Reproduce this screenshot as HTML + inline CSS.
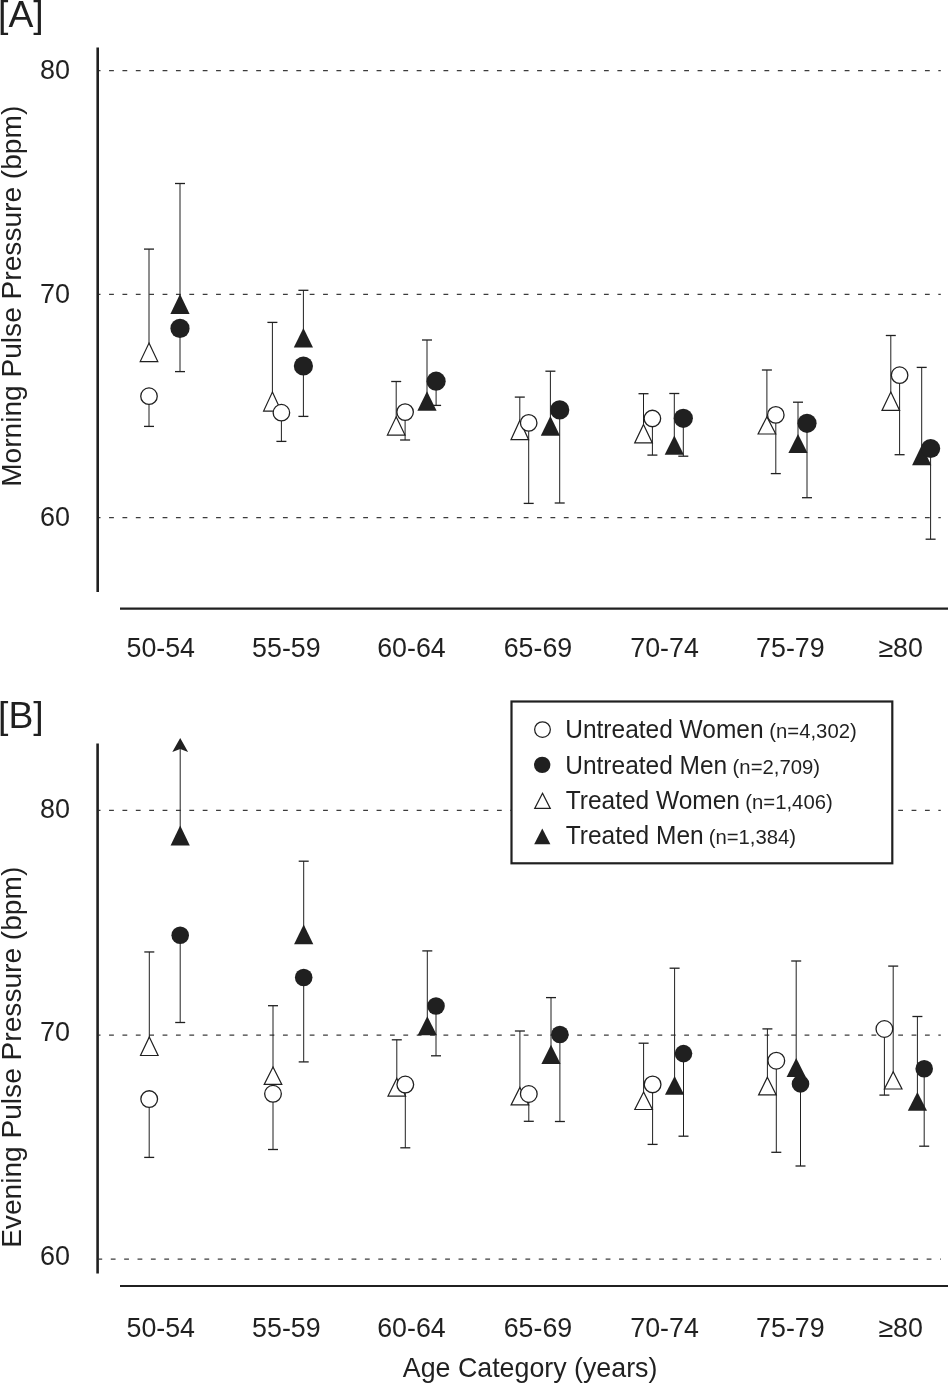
<!DOCTYPE html>
<html><head><meta charset="utf-8"><title>Pulse Pressure by Age Category</title>
<style>html,body{margin:0;padding:0;background:#fff;}svg{display:block;filter:grayscale(1);}</style>
</head><body>
<svg width="948" height="1383" viewBox="0 0 948 1383">
<rect width="948" height="1383" fill="#fff"/>
<g font-family="&quot;Liberation Sans&quot;, sans-serif" fill="#231f20">
<line x1="98.5" y1="70.6" x2="940.8" y2="70.6" stroke="#3c3c3c" stroke-width="1.25" stroke-dasharray="4.8 8.575" stroke-dashoffset="2.8"/>
<line x1="98.5" y1="294.3" x2="940.8" y2="294.3" stroke="#3c3c3c" stroke-width="1.25" stroke-dasharray="4.8 8.575" stroke-dashoffset="2.8"/>
<line x1="98.5" y1="517.6" x2="940.8" y2="517.6" stroke="#3c3c3c" stroke-width="1.25" stroke-dasharray="4.8 8.575" stroke-dashoffset="2.8"/>
<line x1="97.7" y1="47.4" x2="97.7" y2="592" stroke="#231f20" stroke-width="2.6"/>
<line x1="120" y1="608.7" x2="948" y2="608.7" stroke="#231f20" stroke-width="2.2"/>
<text transform="translate(70.1,79.2) scale(1,1.02)" font-size="27" text-anchor="end" >80</text>
<text transform="translate(70.1,303) scale(1,1.02)" font-size="27" text-anchor="end" >70</text>
<text transform="translate(70.1,526.3) scale(1,1.02)" font-size="27" text-anchor="end" >60</text>
<text transform="translate(126.5,657.4) scale(1,1.03)" font-size="26.8" text-anchor="start" >50-54</text>
<text transform="translate(252.1,657.4) scale(1,1.03)" font-size="26.8" text-anchor="start" >55-59</text>
<text transform="translate(377.2,657.4) scale(1,1.03)" font-size="26.8" text-anchor="start" >60-64</text>
<text transform="translate(503.7,657.4) scale(1,1.03)" font-size="26.8" text-anchor="start" >65-69</text>
<text transform="translate(630.3,657.4) scale(1,1.03)" font-size="26.8" text-anchor="start" >70-74</text>
<text transform="translate(756.1,657.4) scale(1,1.03)" font-size="26.8" text-anchor="start" >75-79</text>
<text transform="translate(878.4,657.4) scale(1,1.03)" font-size="26.8" text-anchor="start" >&#8805;80</text>
<text transform="translate(21,296.3) rotate(-90) scale(1.026,1)" font-size="27.4" text-anchor="middle">Morning Pulse Pressure (bpm)</text>
<text transform="translate(-1.9,26.9) scale(1,1)" font-size="37.3" text-anchor="start" >[A]</text>
<line x1="98.5" y1="810.4" x2="940.8" y2="810.4" stroke="#3c3c3c" stroke-width="1.25" stroke-dasharray="4.8 8.575" stroke-dashoffset="2.8"/>
<line x1="98.5" y1="1035" x2="940.8" y2="1035" stroke="#3c3c3c" stroke-width="1.25" stroke-dasharray="4.8 8.575" stroke-dashoffset="2.8"/>
<line x1="98.5" y1="1259" x2="940.8" y2="1259" stroke="#3c3c3c" stroke-width="1.25" stroke-dasharray="4.8 8.575" stroke-dashoffset="1.1"/>
<line x1="97.6" y1="743.5" x2="97.6" y2="1273.5" stroke="#231f20" stroke-width="2.6"/>
<line x1="120" y1="1286" x2="948" y2="1286" stroke="#231f20" stroke-width="2.2"/>
<text transform="translate(70.1,817.7) scale(1,1.02)" font-size="27" text-anchor="end" >80</text>
<text transform="translate(70.1,1041.4) scale(1,1.02)" font-size="27" text-anchor="end" >70</text>
<text transform="translate(70.1,1264.8) scale(1,1.02)" font-size="27" text-anchor="end" >60</text>
<text transform="translate(126.5,1336.6) scale(1,1.03)" font-size="26.8" text-anchor="start" >50-54</text>
<text transform="translate(252.1,1336.6) scale(1,1.03)" font-size="26.8" text-anchor="start" >55-59</text>
<text transform="translate(377.2,1336.6) scale(1,1.03)" font-size="26.8" text-anchor="start" >60-64</text>
<text transform="translate(503.7,1336.6) scale(1,1.03)" font-size="26.8" text-anchor="start" >65-69</text>
<text transform="translate(630.3,1336.6) scale(1,1.03)" font-size="26.8" text-anchor="start" >70-74</text>
<text transform="translate(756.1,1336.6) scale(1,1.03)" font-size="26.8" text-anchor="start" >75-79</text>
<text transform="translate(878.4,1336.6) scale(1,1.03)" font-size="26.8" text-anchor="start" >&#8805;80</text>
<text transform="translate(21,1057.3) rotate(-90) scale(1.026,1)" font-size="27.4" text-anchor="middle">Evening Pulse Pressure (bpm)</text>
<text transform="translate(-1.9,727.8) scale(1,1)" font-size="37.3" text-anchor="start" >[B]</text>
<line x1="149" y1="352.3" x2="149" y2="249.1" stroke="#231f20" stroke-width="1.0"/>
<line x1="144" y1="249.1" x2="154" y2="249.1" stroke="#231f20" stroke-width="1.3"/>
<path d="M149,343.1 L157.8,361.6 L140.2,361.6 Z" fill="#fff" stroke="#231f20" stroke-width="1.2" stroke-linejoin="miter"/>
<line x1="149" y1="396.2" x2="149" y2="426.4" stroke="#231f20" stroke-width="1.0"/>
<line x1="144" y1="426.4" x2="154" y2="426.4" stroke="#231f20" stroke-width="1.3"/>
<circle cx="149" cy="396.2" r="8.25" fill="#fff" stroke="#231f20" stroke-width="1.3"/>
<line x1="180" y1="304.2" x2="180" y2="183.5" stroke="#231f20" stroke-width="1.0"/>
<line x1="175" y1="183.5" x2="185" y2="183.5" stroke="#231f20" stroke-width="1.3"/>
<path d="M180,293.9 L189.6,314 L170.4,314 Z" fill="#231f20"/>
<line x1="180" y1="328.4" x2="180" y2="371.6" stroke="#231f20" stroke-width="1.0"/>
<line x1="175" y1="371.6" x2="185" y2="371.6" stroke="#231f20" stroke-width="1.3"/>
<circle cx="180" cy="328.4" r="9.6" fill="#231f20"/>
<line x1="272.4" y1="401.55" x2="272.4" y2="322.4" stroke="#231f20" stroke-width="1.0"/>
<line x1="267.4" y1="322.4" x2="277.4" y2="322.4" stroke="#231f20" stroke-width="1.3"/>
<path d="M272.4,392.1 L281.2,411.1 L263.6,411.1 Z" fill="#fff" stroke="#231f20" stroke-width="1.2" stroke-linejoin="miter"/>
<line x1="281.4" y1="412.7" x2="281.4" y2="441.4" stroke="#231f20" stroke-width="1.0"/>
<line x1="276.4" y1="441.4" x2="286.4" y2="441.4" stroke="#231f20" stroke-width="1.3"/>
<circle cx="281.4" cy="412.7" r="8.25" fill="#fff" stroke="#231f20" stroke-width="1.3"/>
<line x1="303.4" y1="338.1" x2="303.4" y2="290.3" stroke="#231f20" stroke-width="1.0"/>
<line x1="298.4" y1="290.3" x2="308.4" y2="290.3" stroke="#231f20" stroke-width="1.3"/>
<path d="M303.4,328.1 L313,347.6 L293.8,347.6 Z" fill="#231f20"/>
<line x1="303.4" y1="366" x2="303.4" y2="416.4" stroke="#231f20" stroke-width="1.0"/>
<line x1="298.4" y1="416.4" x2="308.4" y2="416.4" stroke="#231f20" stroke-width="1.3"/>
<circle cx="303.4" cy="366" r="9.6" fill="#231f20"/>
<line x1="396.2" y1="425.9" x2="396.2" y2="381.5" stroke="#231f20" stroke-width="1.0"/>
<line x1="391.2" y1="381.5" x2="401.2" y2="381.5" stroke="#231f20" stroke-width="1.3"/>
<path d="M396.2,416.8 L405,435.1 L387.4,435.1 Z" fill="#fff" stroke="#231f20" stroke-width="1.2" stroke-linejoin="miter"/>
<line x1="405.1" y1="412.1" x2="405.1" y2="440" stroke="#231f20" stroke-width="1.0"/>
<line x1="400.1" y1="440" x2="410.1" y2="440" stroke="#231f20" stroke-width="1.3"/>
<circle cx="405.1" cy="412.1" r="8.25" fill="#fff" stroke="#231f20" stroke-width="1.3"/>
<line x1="427" y1="401.3" x2="427" y2="340" stroke="#231f20" stroke-width="1.0"/>
<line x1="422" y1="340" x2="432" y2="340" stroke="#231f20" stroke-width="1.3"/>
<path d="M427,391.3 L436.6,410.8 L417.4,410.8 Z" fill="#231f20"/>
<line x1="436.1" y1="381.2" x2="436.1" y2="405.4" stroke="#231f20" stroke-width="1.0"/>
<line x1="431.1" y1="405.4" x2="441.1" y2="405.4" stroke="#231f20" stroke-width="1.3"/>
<circle cx="436.1" cy="381.2" r="9.6" fill="#231f20"/>
<line x1="519.8" y1="430.05" x2="519.8" y2="397.1" stroke="#231f20" stroke-width="1.0"/>
<line x1="514.8" y1="397.1" x2="524.8" y2="397.1" stroke="#231f20" stroke-width="1.3"/>
<path d="M519.8,420.5 L528.6,439.7 L511,439.7 Z" fill="#fff" stroke="#231f20" stroke-width="1.2" stroke-linejoin="miter"/>
<line x1="528.7" y1="422.9" x2="528.7" y2="503.4" stroke="#231f20" stroke-width="1.0"/>
<line x1="523.7" y1="503.4" x2="533.7" y2="503.4" stroke="#231f20" stroke-width="1.3"/>
<circle cx="528.7" cy="422.9" r="8.25" fill="#fff" stroke="#231f20" stroke-width="1.3"/>
<line x1="550.4" y1="426.2" x2="550.4" y2="371.2" stroke="#231f20" stroke-width="1.0"/>
<line x1="545.4" y1="371.2" x2="555.4" y2="371.2" stroke="#231f20" stroke-width="1.3"/>
<path d="M550.4,416.1 L560,435.8 L540.8,435.8 Z" fill="#231f20"/>
<line x1="559.7" y1="409.9" x2="559.7" y2="503" stroke="#231f20" stroke-width="1.0"/>
<line x1="554.7" y1="503" x2="564.7" y2="503" stroke="#231f20" stroke-width="1.3"/>
<circle cx="559.7" cy="409.9" r="9.6" fill="#231f20"/>
<line x1="643.5" y1="433.6" x2="643.5" y2="393.7" stroke="#231f20" stroke-width="1.0"/>
<line x1="638.5" y1="393.7" x2="648.5" y2="393.7" stroke="#231f20" stroke-width="1.3"/>
<path d="M643.5,424.4 L652.3,442.9 L634.7,442.9 Z" fill="#fff" stroke="#231f20" stroke-width="1.2" stroke-linejoin="miter"/>
<line x1="652.4" y1="418.5" x2="652.4" y2="455.1" stroke="#231f20" stroke-width="1.0"/>
<line x1="647.4" y1="455.1" x2="657.4" y2="455.1" stroke="#231f20" stroke-width="1.3"/>
<circle cx="652.4" cy="418.5" r="8.25" fill="#fff" stroke="#231f20" stroke-width="1.3"/>
<line x1="674.3" y1="445.4" x2="674.3" y2="393.5" stroke="#231f20" stroke-width="1.0"/>
<line x1="669.3" y1="393.5" x2="679.3" y2="393.5" stroke="#231f20" stroke-width="1.3"/>
<path d="M674.3,435.5 L683.9,454.8 L664.7,454.8 Z" fill="#231f20"/>
<line x1="683.3" y1="418.3" x2="683.3" y2="456.2" stroke="#231f20" stroke-width="1.0"/>
<line x1="678.3" y1="456.2" x2="688.3" y2="456.2" stroke="#231f20" stroke-width="1.3"/>
<circle cx="683.3" cy="418.3" r="9.6" fill="#231f20"/>
<line x1="766.9" y1="425.3" x2="766.9" y2="370" stroke="#231f20" stroke-width="1.0"/>
<line x1="761.9" y1="370" x2="771.9" y2="370" stroke="#231f20" stroke-width="1.3"/>
<path d="M766.9,416.7 L775.7,434 L758.1,434 Z" fill="#fff" stroke="#231f20" stroke-width="1.2" stroke-linejoin="miter"/>
<line x1="775.8" y1="414.9" x2="775.8" y2="473.6" stroke="#231f20" stroke-width="1.0"/>
<line x1="770.8" y1="473.6" x2="780.8" y2="473.6" stroke="#231f20" stroke-width="1.3"/>
<circle cx="775.8" cy="414.9" r="8.25" fill="#fff" stroke="#231f20" stroke-width="1.3"/>
<line x1="798" y1="443.7" x2="798" y2="402.2" stroke="#231f20" stroke-width="1.0"/>
<line x1="793" y1="402.2" x2="803" y2="402.2" stroke="#231f20" stroke-width="1.3"/>
<path d="M798,434 L807.6,452.9 L788.4,452.9 Z" fill="#231f20"/>
<line x1="807" y1="423.3" x2="807" y2="497.7" stroke="#231f20" stroke-width="1.0"/>
<line x1="802" y1="497.7" x2="812" y2="497.7" stroke="#231f20" stroke-width="1.3"/>
<circle cx="807" cy="423.3" r="9.6" fill="#231f20"/>
<line x1="890.8" y1="401.2" x2="890.8" y2="335.5" stroke="#231f20" stroke-width="1.0"/>
<line x1="885.8" y1="335.5" x2="895.8" y2="335.5" stroke="#231f20" stroke-width="1.3"/>
<path d="M890.8,392.1 L899.6,410.4 L882,410.4 Z" fill="#fff" stroke="#231f20" stroke-width="1.2" stroke-linejoin="miter"/>
<line x1="899.6" y1="375.2" x2="899.6" y2="454.7" stroke="#231f20" stroke-width="1.0"/>
<line x1="894.6" y1="454.7" x2="904.6" y2="454.7" stroke="#231f20" stroke-width="1.3"/>
<circle cx="899.6" cy="375.2" r="8.25" fill="#fff" stroke="#231f20" stroke-width="1.3"/>
<line x1="921.7" y1="455.5" x2="921.7" y2="367.4" stroke="#231f20" stroke-width="1.0"/>
<line x1="916.7" y1="367.4" x2="926.7" y2="367.4" stroke="#231f20" stroke-width="1.3"/>
<path d="M921.7,445.3 L931.3,465.2 L912.1,465.2 Z" fill="#231f20"/>
<line x1="930.6" y1="448.5" x2="930.6" y2="539.2" stroke="#231f20" stroke-width="1.0"/>
<line x1="925.6" y1="539.2" x2="935.6" y2="539.2" stroke="#231f20" stroke-width="1.3"/>
<circle cx="930.6" cy="448.5" r="9.6" fill="#231f20"/>
<line x1="149.3" y1="1046.2" x2="149.3" y2="951.96" stroke="#231f20" stroke-width="1.0"/>
<line x1="144.3" y1="951.96" x2="154.3" y2="951.96" stroke="#231f20" stroke-width="1.3"/>
<path d="M149.3,1037 L158.1,1055.5 L140.5,1055.5 Z" fill="#fff" stroke="#231f20" stroke-width="1.2" stroke-linejoin="miter"/>
<line x1="149.2" y1="1099.1" x2="149.2" y2="1157.4" stroke="#231f20" stroke-width="1.0"/>
<line x1="144.2" y1="1157.4" x2="154.2" y2="1157.4" stroke="#231f20" stroke-width="1.3"/>
<circle cx="149.2" cy="1099.1" r="8.35" fill="#fff" stroke="#231f20" stroke-width="1.3"/>
<line x1="180.2" y1="835.75" x2="180.2" y2="745" stroke="#231f20" stroke-width="1.0"/>
<path d="M180.2,738.1 L188.1,751.9 L180.2,748.9 L172.3,751.9 Z" fill="#231f20"/>
<path d="M180.2,825.6 L189.8,845.4 L170.6,845.4 Z" fill="#231f20"/>
<line x1="180.2" y1="935.2" x2="180.2" y2="1022.5" stroke="#231f20" stroke-width="1.0"/>
<line x1="175.2" y1="1022.5" x2="185.2" y2="1022.5" stroke="#231f20" stroke-width="1.3"/>
<circle cx="180.2" cy="935.2" r="8.8" fill="#231f20"/>
<line x1="273" y1="1075.7" x2="273" y2="1005.7" stroke="#231f20" stroke-width="1.0"/>
<line x1="268" y1="1005.7" x2="278" y2="1005.7" stroke="#231f20" stroke-width="1.3"/>
<path d="M273,1067.1 L281.8,1084.4 L264.2,1084.4 Z" fill="#fff" stroke="#231f20" stroke-width="1.2" stroke-linejoin="miter"/>
<line x1="273" y1="1093.8" x2="273" y2="1149.5" stroke="#231f20" stroke-width="1.0"/>
<line x1="268" y1="1149.5" x2="278" y2="1149.5" stroke="#231f20" stroke-width="1.3"/>
<circle cx="273" cy="1093.8" r="8.35" fill="#fff" stroke="#231f20" stroke-width="1.3"/>
<line x1="303.7" y1="934.55" x2="303.7" y2="861.2" stroke="#231f20" stroke-width="1.0"/>
<line x1="298.7" y1="861.2" x2="308.7" y2="861.2" stroke="#231f20" stroke-width="1.3"/>
<path d="M303.7,924.4 L313.3,944.2 L294.1,944.2 Z" fill="#231f20"/>
<line x1="303.7" y1="977.5" x2="303.7" y2="1061.9" stroke="#231f20" stroke-width="1.0"/>
<line x1="298.7" y1="1061.9" x2="308.7" y2="1061.9" stroke="#231f20" stroke-width="1.3"/>
<circle cx="303.7" cy="977.5" r="8.8" fill="#231f20"/>
<line x1="396.8" y1="1087.2" x2="396.8" y2="1039.8" stroke="#231f20" stroke-width="1.0"/>
<line x1="391.8" y1="1039.8" x2="401.8" y2="1039.8" stroke="#231f20" stroke-width="1.3"/>
<path d="M396.8,1078.4 L405.6,1096.1 L388,1096.1 Z" fill="#fff" stroke="#231f20" stroke-width="1.2" stroke-linejoin="miter"/>
<line x1="405.3" y1="1084.55" x2="405.3" y2="1147.8" stroke="#231f20" stroke-width="1.0"/>
<line x1="400.3" y1="1147.8" x2="410.3" y2="1147.8" stroke="#231f20" stroke-width="1.3"/>
<circle cx="405.3" cy="1084.55" r="8.35" fill="#fff" stroke="#231f20" stroke-width="1.3"/>
<line x1="427.3" y1="1026" x2="427.3" y2="950.9" stroke="#231f20" stroke-width="1.0"/>
<line x1="422.3" y1="950.9" x2="432.3" y2="950.9" stroke="#231f20" stroke-width="1.3"/>
<path d="M427.3,1016.2 L436.9,1035.3 L417.7,1035.3 Z" fill="#231f20"/>
<line x1="436" y1="1006" x2="436" y2="1055.8" stroke="#231f20" stroke-width="1.0"/>
<line x1="431" y1="1055.8" x2="441" y2="1055.8" stroke="#231f20" stroke-width="1.3"/>
<circle cx="436" cy="1006" r="8.8" fill="#231f20"/>
<line x1="519.9" y1="1096.1" x2="519.9" y2="1031" stroke="#231f20" stroke-width="1.0"/>
<line x1="514.9" y1="1031" x2="524.9" y2="1031" stroke="#231f20" stroke-width="1.3"/>
<path d="M519.9,1087.4 L528.7,1104.9 L511.1,1104.9 Z" fill="#fff" stroke="#231f20" stroke-width="1.2" stroke-linejoin="miter"/>
<line x1="528.8" y1="1094" x2="528.8" y2="1121.3" stroke="#231f20" stroke-width="1.0"/>
<line x1="523.8" y1="1121.3" x2="533.8" y2="1121.3" stroke="#231f20" stroke-width="1.3"/>
<circle cx="528.8" cy="1094" r="8.35" fill="#fff" stroke="#231f20" stroke-width="1.3"/>
<line x1="551" y1="1054.7" x2="551" y2="997.6" stroke="#231f20" stroke-width="1.0"/>
<line x1="546" y1="997.6" x2="556" y2="997.6" stroke="#231f20" stroke-width="1.3"/>
<path d="M551,1044.8 L560.6,1064.1 L541.4,1064.1 Z" fill="#231f20"/>
<line x1="559.9" y1="1034.5" x2="559.9" y2="1121.5" stroke="#231f20" stroke-width="1.0"/>
<line x1="554.9" y1="1121.5" x2="564.9" y2="1121.5" stroke="#231f20" stroke-width="1.3"/>
<circle cx="559.9" cy="1034.5" r="8.8" fill="#231f20"/>
<line x1="643.6" y1="1100.75" x2="643.6" y2="1043.2" stroke="#231f20" stroke-width="1.0"/>
<line x1="638.6" y1="1043.2" x2="648.6" y2="1043.2" stroke="#231f20" stroke-width="1.3"/>
<path d="M643.6,1092.1 L652.4,1109.5 L634.8,1109.5 Z" fill="#fff" stroke="#231f20" stroke-width="1.2" stroke-linejoin="miter"/>
<line x1="652.6" y1="1084.4" x2="652.6" y2="1144.4" stroke="#231f20" stroke-width="1.0"/>
<line x1="647.6" y1="1144.4" x2="657.6" y2="1144.4" stroke="#231f20" stroke-width="1.3"/>
<circle cx="652.6" cy="1084.4" r="8.35" fill="#fff" stroke="#231f20" stroke-width="1.3"/>
<line x1="674.6" y1="1085.6" x2="674.6" y2="968.2" stroke="#231f20" stroke-width="1.0"/>
<line x1="669.6" y1="968.2" x2="679.6" y2="968.2" stroke="#231f20" stroke-width="1.3"/>
<path d="M674.6,1075.9 L684.2,1094.8 L665,1094.8 Z" fill="#231f20"/>
<line x1="683.5" y1="1053.6" x2="683.5" y2="1136.2" stroke="#231f20" stroke-width="1.0"/>
<line x1="678.5" y1="1136.2" x2="688.5" y2="1136.2" stroke="#231f20" stroke-width="1.3"/>
<circle cx="683.5" cy="1053.6" r="8.8" fill="#231f20"/>
<line x1="767.4" y1="1086" x2="767.4" y2="1028.9" stroke="#231f20" stroke-width="1.0"/>
<line x1="762.4" y1="1028.9" x2="772.4" y2="1028.9" stroke="#231f20" stroke-width="1.3"/>
<path d="M767.4,1077.2 L776.2,1094.9 L758.6,1094.9 Z" fill="#fff" stroke="#231f20" stroke-width="1.2" stroke-linejoin="miter"/>
<line x1="776.3" y1="1060.7" x2="776.3" y2="1152.3" stroke="#231f20" stroke-width="1.0"/>
<line x1="771.3" y1="1152.3" x2="781.3" y2="1152.3" stroke="#231f20" stroke-width="1.3"/>
<circle cx="776.3" cy="1060.7" r="8.35" fill="#fff" stroke="#231f20" stroke-width="1.3"/>
<line x1="796.2" y1="1067.7" x2="796.2" y2="961" stroke="#231f20" stroke-width="1.0"/>
<line x1="791.2" y1="961" x2="801.2" y2="961" stroke="#231f20" stroke-width="1.3"/>
<path d="M796.2,1058 L805.8,1076.9 L786.6,1076.9 Z" fill="#231f20"/>
<line x1="800.5" y1="1083.9" x2="800.5" y2="1166" stroke="#231f20" stroke-width="1.0"/>
<line x1="795.5" y1="1166" x2="805.5" y2="1166" stroke="#231f20" stroke-width="1.3"/>
<circle cx="800.5" cy="1083.9" r="8.8" fill="#231f20"/>
<line x1="893.2" y1="1080.3" x2="893.2" y2="966.1" stroke="#231f20" stroke-width="1.0"/>
<line x1="888.2" y1="966.1" x2="898.2" y2="966.1" stroke="#231f20" stroke-width="1.3"/>
<path d="M893.2,1071.7 L902,1089 L884.4,1089 Z" fill="#fff" stroke="#231f20" stroke-width="1.2" stroke-linejoin="miter"/>
<line x1="884.4" y1="1029" x2="884.4" y2="1095.1" stroke="#231f20" stroke-width="1.0"/>
<line x1="879.4" y1="1095.1" x2="889.4" y2="1095.1" stroke="#231f20" stroke-width="1.3"/>
<circle cx="884.4" cy="1029" r="8.35" fill="#fff" stroke="#231f20" stroke-width="1.3"/>
<line x1="917.4" y1="1101.7" x2="917.4" y2="1016.5" stroke="#231f20" stroke-width="1.0"/>
<line x1="912.4" y1="1016.5" x2="922.4" y2="1016.5" stroke="#231f20" stroke-width="1.3"/>
<path d="M917.4,1092.1 L927,1110.8 L907.8,1110.8 Z" fill="#231f20"/>
<line x1="924.2" y1="1068.7" x2="924.2" y2="1146.2" stroke="#231f20" stroke-width="1.0"/>
<line x1="919.2" y1="1146.2" x2="929.2" y2="1146.2" stroke="#231f20" stroke-width="1.3"/>
<circle cx="924.2" cy="1068.7" r="8.8" fill="#231f20"/>
<rect x="511.5" y="701.5" width="380.8" height="161.8" fill="#fff" stroke="#231f20" stroke-width="2.2"/>
<circle cx="542.5" cy="729.6" r="7.85" fill="#fff" stroke="#231f20" stroke-width="1.25"/>
<text transform="translate(565.24,737.8) scale(1,1.04)" font-size="24.5" text-anchor="start" >Untreated Women</text>
<text transform="translate(769.28,737.8) scale(1,1.02)" font-size="20.3" text-anchor="start" >(n=4,302)</text>
<circle cx="542.2" cy="764.9" r="8.2" fill="#231f20"/>
<text transform="translate(565.24,773.5) scale(1,1.04)" font-size="24.5" text-anchor="start" >Untreated Men</text>
<text transform="translate(732.58,773.5) scale(1,1.02)" font-size="20.3" text-anchor="start" >(n=2,709)</text>
<path d="M542.5,793.3 L550.2,808.3 L534.8,808.3 Z" fill="#fff" stroke="#231f20" stroke-width="1.3"/>
<text transform="translate(565.71,808.9) scale(1,1.04)" font-size="24.5" text-anchor="start" >Treated Women</text>
<text transform="translate(745.28,808.9) scale(1,1.02)" font-size="20.3" text-anchor="start" >(n=1,406)</text>
<path d="M542.3,828.5 L550.4,844.3 L534.2,844.3 Z" fill="#231f20"/>
<text transform="translate(565.71,844.3) scale(1,1.04)" font-size="24.5" text-anchor="start" >Treated Men</text>
<text transform="translate(708.68,844.3) scale(1,1.02)" font-size="20.3" text-anchor="start" >(n=1,384)</text>
<text transform="translate(402.8,1377.1) scale(1,1.04)" font-size="26.8" text-anchor="start" >Age Category (years)</text>
</g></svg>
</body></html>
